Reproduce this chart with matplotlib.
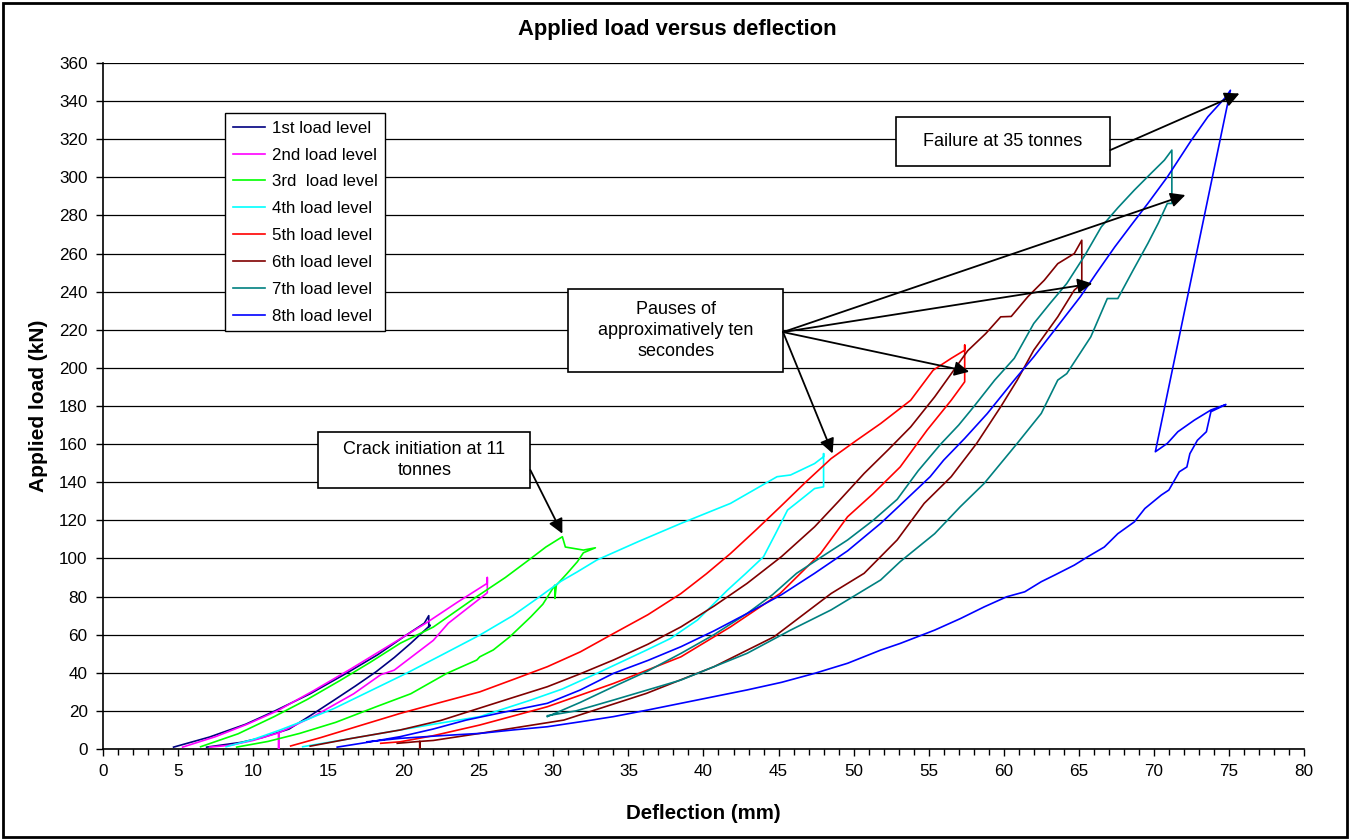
import matplotlib
matplotlib.use("Agg")
import matplotlib.pyplot as plt
from matplotlib.patches import Rectangle
from matplotlib.ticker import MultipleLocator

plt.rcParams['font.family'] = ['Liberation Sans', 'DejaVu Sans']

# deflection (mm) / applied load (kN) for each load level
x1 = [4.7, 7.1, 9.5, 11.4, 13.8, 16.2, 18.3, 20.2, 21.4, 21.7, 21.7,
      21.8, 20.5, 19.4, 18.2, 16.8, 15.4, 14.0, 12.4, 10.6, 9.2, 6.9]
y1 = [1, 6.3, 13, 19.8, 29, 39.7, 49.5, 59.8, 66, 70, 64,
      65, 55.5, 48, 40.6, 33, 25.7, 18.5, 10.5, 6, 3.5, 1]

x2 = [5.3, 7.5, 9.6, 11.6, 14.0, 16.5, 19.0, 21.5, 23.6, 25.6, 25.6,
      25.6, 24.3, 23.0, 22.0, 20.5, 19.4, 18.5, 16.7, 14.0, 11.7, 11.7, 11.7, 10.0, 8.5, 7.1]
y2 = [1, 6.5, 13, 20, 30.5, 42, 54, 66, 77, 87, 90,
      82, 74, 66, 57, 48, 41.4, 39, 29, 17, 8.5, 0, 8.5, 4.5, 2, 1]

x3 = [6.5, 9.0, 11.4, 13.6, 15.8, 17.8, 19.8, 22.0, 24.9, 26.8, 28.5, 29.5, 30.6,
      30.8, 32.0, 32.8,
      32.0, 31.6, 30.9, 30.2, 30.1, 30.1, 29.3, 28.5, 27.1, 26.0, 25.1, 24.9,
      22.9, 20.5, 18.2, 15.5, 13.1, 11.0, 8.9]
y3 = [1.2, 8, 17, 26, 36, 45.5, 55.5, 64, 80, 90, 100, 106, 111.4,
      106, 104.4, 105.6,
      103, 98.3, 92, 86, 79, 86, 76, 69.4, 58.9, 52, 48.4, 46.7,
      39.7, 29, 22.2, 14, 8.2, 4, 1]

x4 = [8.2, 10.0, 11.8, 13.6, 15.4, 17.8, 20.2, 22.6, 25.1, 27.3, 29.1, 30.5, 31.6, 32.9,
      35.7, 38.5, 41.8, 44.9, 45.8, 47.4, 48.0, 48.0, 48.0,
      47.4, 46.5, 45.6, 44.8, 44.0, 42.8, 41.6, 39.6, 37.8, 36.2, 32.9, 30.6, 28.5,
      25.1, 22.0, 19.8, 16.5, 13.3]
y4 = [1.2, 5, 10, 15.5, 21.3, 30.5, 39.7, 49.5, 59.8, 70, 80, 88, 93, 99.2,
      109, 118.4, 128.9, 142.9, 143.8, 149.8, 153.4, 155, 137.6,
      136.7, 131, 125.4, 113, 100.9, 92, 83.4, 67.7, 58, 51.9, 39.7, 31.5, 25.7,
      17, 13, 10, 5.5, 1.2]

x5 = [12.5, 14.5, 17.0, 19.8, 22.5, 25.1, 27.5, 29.6, 31.8, 34.0, 36.3, 38.5, 40.2,
      41.8, 43.5, 45.1, 46.8, 48.5, 50.2, 51.8, 53.8, 55.3, 56.5, 57.4, 57.4, 57.4,
      57.4, 56.5, 54.9, 53.1, 51.3, 49.6, 47.8, 45.1, 41.8, 38.5, 34.0, 29.6, 25.1,
      22.0, 19.8, 18.5]
y5 = [1.6, 6, 12, 18.7, 24.5, 30, 37, 43.2, 51, 60.6, 70.5, 81.6, 92,
      102.6, 115, 127, 140, 152.4, 162, 170.8, 183, 198.8, 205, 209.3, 212, 193,
      192.7, 183, 167.4, 148, 134, 121.9, 102.6, 81.6, 64.1, 48.4, 34.4, 22.2, 12.6,
      7, 3.8, 3]

x6 = [13.8, 16.5, 19.8, 22.5, 25.1, 27.3, 29.6, 31.8, 34.0, 36.3, 38.5, 40.7, 42.9,
      45.2, 47.4, 49.0, 50.7, 52.3, 53.8, 55.4, 57.6, 58.8, 59.8, 60.5, 61.6, 62.7,
      63.6, 64.7, 65.2, 65.2,
      64.7, 63.6, 62.0, 60.9, 59.8, 58.2, 56.5, 54.7, 52.9, 50.7, 48.5, 44.7, 40.7,
      36.2, 30.7, 25.1, 22.0, 21.1, 21.1, 21.1, 19.6]
y6 = [1.5, 5.5, 10, 15, 21.5, 27, 32.7, 39.5, 46.7, 55, 64.1, 75, 86.9,
      101, 116.6, 130, 144.6, 157, 169, 184.8, 209, 218, 226.8, 227, 237.3, 246,
      254.7, 260, 267, 244.3,
      240.8, 226.8, 209.3, 193.6, 179.6, 160.4, 142.9, 128.9, 109.7, 92.2, 81.6, 58.9, 43.2,
      29.2, 15.2, 8.2, 4.5, 4, 0, 4, 3]

x7 = [29.6, 31.8, 34.0, 36.3, 38.5, 40.7, 42.9, 44.6, 46.2, 47.9, 49.6, 51.3, 52.9,
      54.3, 55.8, 57.0, 58.0, 59.4, 60.7, 62.0, 63.1, 64.2, 65.4, 66.5, 67.6, 68.7,
      69.8, 70.7, 71.2, 71.2,
      70.9, 70.3, 69.6, 68.6, 67.6, 66.9, 65.8, 64.2, 63.6, 62.5, 60.9, 58.7, 57.1,
      55.4, 53.1, 51.8, 48.5, 45.8, 42.9, 38.5, 34.0, 31.5, 29.6]
y7 = [17, 24.5, 32.7, 41, 50.2, 60, 71.1, 81, 92.2, 101, 109.7, 120, 131,
      146, 160, 170, 179.6, 193.6, 205, 223.3, 234, 244.3, 259, 274, 284, 293.3,
      302, 309, 314.3, 286.3,
      286.3, 276, 265.3, 251, 236.4, 236.4, 216.3, 197, 193.6, 176.1, 160.4, 139.4, 127.1,
      113, 98.3, 88.7, 73, 62.4, 50.2, 36.2, 25.7, 20, 17.5]

x8 = [15.6, 17.6, 19.8, 22.0, 24.2, 26.5, 29.6, 31.8, 34.0, 36.3, 38.5, 40.7, 42.9,
      45.2, 47.4, 49.6, 51.8, 53.1, 55.1, 56.0, 57.4, 58.9, 59.8, 60.7, 62.0, 63.5,
      65.1, 66.2, 67.4, 68.5, 69.6, 70.9, 72.5, 73.6, 74.8, 75.1,
      70.1, 70.9, 71.6, 72.7, 73.8, 74.8,
      73.8, 73.5, 72.9, 72.4, 72.2, 71.7, 71.0, 70.5, 69.4, 68.7, 67.6, 66.7, 65.6,
      64.7, 63.4, 62.5, 61.4, 60.2, 58.7, 57.1, 55.4, 53.1, 51.8, 49.6, 47.4, 45.2,
      42.9, 40.7, 38.5, 36.3, 34.0, 31.8, 29.6, 27.3, 25.1, 22.5, 19.8, 17.6]
y8 = [1, 3.5, 6.5, 10.5, 15.2, 19, 24, 31, 39.7, 46.5, 53.7, 62, 71.1,
      81, 92.2, 104, 118.4, 128, 142.9, 151.6, 163, 176, 184.8, 193.6, 205.8, 221,
      237.3, 250, 263.5, 275, 286.3, 300.2, 319.5, 331.8, 342.2, 345.7,
      156, 160.4, 166.5, 172.6, 177.9, 180.8,
      177, 166.5, 162, 155, 148, 145.5, 135.9, 133.3, 126.2, 119.2, 113, 106, 100.9,
      96.5, 91.3, 87.8, 82.5, 79.9, 74.6, 68.4, 62.4, 55.4, 51.9, 45, 39.7, 35,
      31, 27.5, 24, 20.5, 17, 14.3, 11.7, 10, 8.2, 7, 5.6, 3.8]

labels = ['1st load level', '2nd load level', '3rd  load level', '4th load level',
          '5th load level', '6th load level', '7th load level', '8th load level']
colors = ['#000080', '#FF00FF', '#00FF00', '#00FFFF',
          '#FF0000', '#800000', '#008080', '#0000FF']
xs = [x1, x2, x3, x4, x5, x6, x7, x8]
ys = [y1, y2, y3, y4, y5, y6, y7, y8]

fig = plt.figure(figsize=(13.5, 8.4), dpi=100)
ax = fig.add_axes([0.0763, 0.1083, 0.8896, 0.8167])

for x, y, c, lab in zip(xs, ys, colors, labels):
    ax.plot(x, y, color=c, lw=1.2, label=lab, zorder=3)

ax.set_xlim(0, 80)
ax.set_ylim(0, 360)
ax.xaxis.set_major_locator(MultipleLocator(5))
ax.xaxis.set_minor_locator(MultipleLocator(1))
ax.yaxis.set_major_locator(MultipleLocator(20))
ax.tick_params(axis='both', which='major', direction='out', length=5, width=1,
               labelsize=12.3, pad=6)
ax.tick_params(axis='x', which='minor', direction='out', length=4, width=1)
ax.grid(axis='y', color='black', lw=0.9, zorder=0)
ax.set_axisbelow(True)
for s in ['top', 'right']:
    ax.spines[s].set_visible(False)
for s in ['left', 'bottom']:
    ax.spines[s].set_linewidth(1.2)

ax.set_title('Applied load versus deflection', fontsize=15.8, fontweight='bold',
             pad=20, x=0.478)
ax.set_xlabel('Deflection (mm)', fontsize=14.8, fontweight='bold', labelpad=18)
ax.set_ylabel('Applied load (kN)', fontsize=15, fontweight='bold', labelpad=8)

leg = ax.legend(loc='upper left', bbox_to_anchor=(0.1016, 0.927), fontsize=12.2,
                frameon=True, fancybox=False, edgecolor='black', framealpha=1,
                handlelength=1.9, labelspacing=0.7, borderpad=0.45,
                handletextpad=0.4, borderaxespad=0)
leg.get_frame().set_linewidth(1.0)

# annotation boxes: (x0, y0, x1, y1) in data units
def box(x0, y0, x1, y1, text):
    ax.add_patch(Rectangle((x0, y0), x1 - x0, y1 - y0, facecolor='white',
                           edgecolor='black', lw=1.2, zorder=5))
    ax.text((x0 + x1) / 2, (y0 + y1) / 2, text, ha='center', va='center',
            fontsize=13, zorder=6, linespacing=1.3)

arrow = dict(arrowstyle='-|>', color='black', lw=1.3, mutation_scale=22,
             shrinkA=0, shrinkB=0)

box(14.33, 136.9, 28.47, 166.3, 'Crack initiation at 11\ntonnes')
ax.annotate('', xy=(30.6, 113), xytext=(28.47, 146.4), arrowprops=arrow, zorder=6)

box(31.0, 197.8, 45.3, 241.3, 'Pauses of\napproximatively ten\nsecondes')
for tip in [(48.6, 155.1), (57.7, 198), (65.9, 244.3), (72.1, 290.7)]:
    ax.annotate('', xy=tip, xytext=(45.3, 218.8), arrowprops=arrow, zorder=6)

box(52.8, 305.9, 67.1, 331.6, 'Failure at 35 tonnes')
ax.annotate('', xy=(75.7, 344), xytext=(67.1, 314.3), arrowprops=arrow, zorder=6)

fig.add_artist(Rectangle((0.002, 0.003), 0.996, 0.994, transform=fig.transFigure,
                         fill=False, edgecolor='black', lw=2))

fig.savefig('out.png', dpi=100)
